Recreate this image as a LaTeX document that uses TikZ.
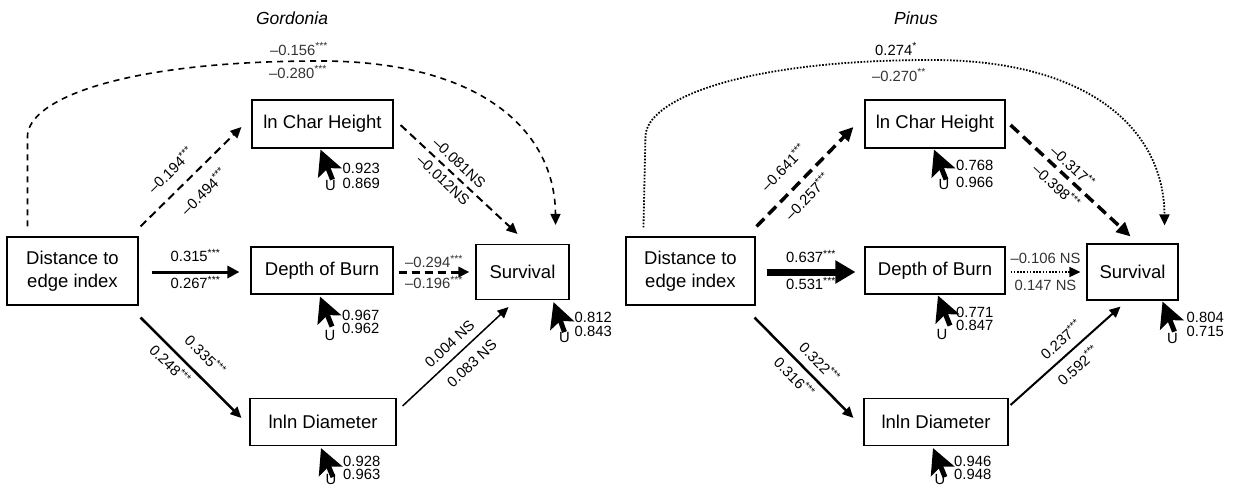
\documentclass[tikz,border=0pt]{standalone}
\usepackage{fontspec}
\setmainfont{Liberation Sans}
\usetikzlibrary{arrows.meta,calc}
\newcommand\sig[1]{\textsuperscript{#1}}
\begin{document}
\begin{tikzpicture}[x=1pt,y=-1pt,
  box/.style={draw,line width=1.1pt,inner sep=0pt,align=center,font=\fontsize{18.5}{22.5}\selectfont},
  lab/.style={font=\fontsize{14.8}{16}\selectfont,inner sep=0pt},
  ttl/.style={font=\fontsize{17.5}{20}\selectfont\itshape},
  errarr/.style={line width=5pt,-{Stealth[length=25pt,width=25pt,inset=5pt]}},
  enum/.style={lab,anchor=west},
  eu/.style={lab,anchor=center},
  gray/.style={text=black!80},
  tipA/.style={-{Triangle[length=11pt,width=10pt]}},
  tipB/.style={-{Triangle[length=14pt,width=13pt]}},
  tipC/.style={-{Triangle[length=20pt,width=22pt]}},
  dashA/.style={dash pattern=on 8pt off 5pt},
  dashB/.style={dash pattern=on 11pt off 6pt},
  dashC/.style={dash pattern=on 6pt off 5pt},
  dotA/.style={dash pattern=on 1.6pt off 1.6pt},
]
\useasboundingbox (0,0) rectangle (1237,485);

% ---------------- left panel: Gordonia ----------------
\node[ttl] (t1) at (292,18) {Gordonia};
\node[box,minimum width=131,minimum height=68] (dist) at (72.5,271) {Distance to\\edge index};
\node[box,minimum width=141,minimum height=48] (ch) at (322.5,124) {ln Char Height};
\node[box,minimum width=142,minimum height=47] (dob) at (322,270.5) {Depth of Burn};
\node[box,minimum width=93,minimum height=55] (surv) at (522.5,272) {Survival};
\node[box,minimum width=146,minimum height=47] (lnln) at (323,422) {lnln Diameter};

\draw[line width=1.6pt,dashC,tipA] ($(dist.north west)+(21,-10)$) -- ($(dist.north west)+(21,-100)$)
  .. controls (28,100) and (120,61) .. (320,61) .. controls (480,61) and (555,130) .. ($(surv.north east)+(-14,-19)$);
\node[lab,gray] (c1a) at (299,49) {–0.156\sig{***}};
\node[lab,gray] (c1b) at (298,72) {–0.280\sig{***}};

\draw[line width=2pt,dashA,tipA] ($(dist.north east)+(2,-10)$) --
  node[lab,pos=.43,sloped,above,outer sep=13pt] (l1a) {–0.194\sig{***}}
  node[lab,pos=.49,sloped,below,outer sep=13pt] (l1b) {–0.494\sig{***}} ($(ch.west)+(-10,3)$);
\draw[line width=2pt,dashA,tipA] ($(ch.east)+(7,1)$) --
  node[lab,pos=.43,sloped,above,outer sep=7pt] (l2a) {–0.081NS}
  node[lab,pos=.43,sloped,below,outer sep=6pt] (l2b) {–0.012NS} ($(surv.north)+(-5,-10)$);
\draw[line width=3pt,-{Triangle[length=12pt,width=12pt]}] ($(dist.east)+(13,1)$) --
  node[lab,above,outer sep=10pt] (l3a) {0.315\sig{***}}
  node[lab,below,outer sep=4pt] (l3b) {0.267\sig{***}} ($(dob.west)+(-11,1.5)$);
\draw[line width=3pt,dashA,tipA] ($(dob.east)+(5,1.5)$) --
  node[lab,gray,above,outer sep=4pt] (l4a) {–0.294\sig{***}}
  node[lab,gray,below,outer sep=4pt] (l4b) {–0.196\sig{***}} ($(surv.west)+(-6,0)$);
\draw[line width=2.5pt,tipA] ($(dist.south east)+(2,12)$) --
  node[lab,pos=.51,sloped,above,outer sep=13pt] (l5a) {0.335\sig{***}}
  node[lab,pos=.38,sloped,below,outer sep=6pt] (l5b) {0.248\sig{***}} ($(lnln.west)+(-8,-4)$);
\draw[line width=1.5pt,tipA] ($(lnln.east)+(6,-16)$) --
  node[lab,pos=.53,sloped,above,outer sep=8pt] (l6a) {0.004 NS}
  node[lab,pos=.55,sloped,below,outer sep=11pt] (l6b) {0.083 NS} ($(surv.south)+(-14,7)$);

% error terms left
\draw[errarr] ($(ch.south)+(10,31)$) -- ($(ch.south)+(-2,1)$);
\node[enum] (e1a) at ($(ch.south)+(20,20)$) {0.923};
\node[enum] (e1b) at ($(ch.south)+(20,35)$) {0.869};
\node[eu] (e1u) at ($(ch.south)+(8,37)$) {U};

\draw[errarr] ($(dob.south)+(10,32)$) -- ($(dob.south)+(-2,2)$);
\node[enum] (e2a) at ($(dob.south)+(20,21)$) {0.967};
\node[enum] (e2b) at ($(dob.south)+(20,34)$) {0.962};
\node[eu] (e2u) at ($(dob.south)+(8,41)$) {U};

\draw[errarr] ($(surv.south)+(42,32)$) -- ($(surv.south)+(31,2)$);
\node[enum] (e3a) at ($(surv.south)+(52,17)$) {0.812};
\node[enum] (e3b) at ($(surv.south)+(52,31)$) {0.843};
\node[eu] (e3u) at ($(surv.south)+(42,37)$) {U};

\draw[errarr] ($(lnln.south)+(10,31)$) -- ($(lnln.south)+(-2,2)$);
\node[enum] (e4a) at ($(lnln.south)+(20,15)$) {0.928};
\node[enum] (e4b) at ($(lnln.south)+(20,28)$) {0.963};
\node[eu] (e4u) at ($(lnln.south)+(8,33)$) {U};

% ---------------- right panel: Pinus ----------------
\node[ttl] (t2) at (916,18) {Pinus};
\node[box,minimum width=129,minimum height=68] (dist2) at (690.5,271) {Distance to\\edge index};
\node[box,minimum width=140,minimum height=48] (ch2) at (935,124) {ln Char Height};
\node[box,minimum width=140,minimum height=47] (dob2) at (935,270.5) {Depth of Burn};
\node[box,minimum width=91,minimum height=56] (surv2) at (1132.5,272) {Survival};
\node[box,minimum width=144,minimum height=47] (lnln2) at (936,422) {lnln Diameter};

\draw[line width=1.8pt,dotA,tipA] ($(dist2.north west)+(18,-9)$) -- ($(dist2.north west)+(20,-100)$)
  .. controls (646,100) and (740,60) .. (932,60) .. controls (1090,60) and (1164,130) .. ($(surv2.north east)+(-14,-18)$);
\node[lab] (c2a) at (896,49) {0.274\sig{*}};
\node[lab,gray] (c2b) at (899,75) {–0.270\sig{**}};

\draw[line width=3.5pt,dashB,tipB] ($(dist2.north east)+(1,-10)$) --
  node[lab,pos=.44,sloped,above,outer sep=16pt] (r1a) {–0.641\sig{***}}
  node[lab,pos=.41,sloped,below,outer sep=9pt] (r1b) {–0.257\sig{***}} ($(ch2.west)+(-11,3)$);
\draw[line width=3.5pt,dashB,tipB] ($(ch2.east)+(5,1)$) --
  node[lab,pos=.45,sloped,above,outer sep=6pt] (r2a) {–0.317\sig{**}}
  node[lab,pos=.46,sloped,below,outer sep=7pt] (r2b) {–0.398\sig{***}} ($(surv2.north)+(-2,-7)$);
\draw[line width=7pt,tipC] ($(dist2.east)+(11,1)$) --
  node[lab,above,outer sep=9pt] (r3a) {0.637\sig{***}}
  node[lab,below,outer sep=5pt] (r3b) {0.531\sig{***}} ($(dob2.west)+(-9,1.5)$);
\draw[line width=1.5pt,dotA,tipA] ($(dob2.east)+(5,1.5)$) --
  node[lab,gray,above,outer sep=8pt] (r4a) {–0.106 NS}
  node[lab,gray,below,outer sep=8pt] (r4b) {0.147 NS} ($(surv2.west)+(-6,0)$);
\draw[line width=2.5pt,tipA] ($(dist2.south east)+(-1,12)$) --
  node[lab,pos=.55,sloped,above,outer sep=9pt] (r5a) {0.322\sig{***}}
  node[lab,pos=.5,sloped,below,outer sep=7pt] (r5b) {0.316\sig{***}} ($(lnln2.west)+(-10,-4)$);
\draw[line width=2pt,tipA] ($(lnln2.east)+(2,-17)$) --
  node[lab,pos=.55,sloped,above,outer sep=9pt] (r6a) {0.237\sig{***}}
  node[lab,pos=.52,sloped,below,outer sep=9pt] (r6b) {0.592\sig{***}} ($(surv2.south)+(-12,6)$);

% error terms right
\draw[errarr] ($(ch2.south)+(11,31)$) -- ($(ch2.south)+(-1,1)$);
\node[enum] (f1a) at ($(ch2.south)+(21,17)$) {0.768};
\node[enum] (f1b) at ($(ch2.south)+(21,34)$) {0.966};
\node[eu] (f1u) at ($(ch2.south)+(9,36)$) {U};

\draw[errarr] ($(dob2.south)+(15,31)$) -- ($(dob2.south)+(3,1)$);
\node[enum] (f2a) at ($(dob2.south)+(21,18)$) {0.771};
\node[enum] (f2b) at ($(dob2.south)+(21,31)$) {0.847};
\node[eu] (f2u) at ($(dob2.south)+(7,40)$) {U};

\draw[errarr] ($(surv2.south)+(42,31)$) -- ($(surv2.south)+(30,1)$);
\node[enum] (f3a) at ($(surv2.south)+(54,17)$) {0.804};
\node[enum] (f3b) at ($(surv2.south)+(54,31)$) {0.715};
\node[eu] (f3u) at ($(surv2.south)+(40,38)$) {U};

\draw[errarr] ($(lnln2.south)+(9,31)$) -- ($(lnln2.south)+(-3,2)$);
\node[enum] (f4a) at ($(lnln2.south)+(18,15)$) {0.946};
\node[enum] (f4b) at ($(lnln2.south)+(18,28)$) {0.948};
\node[eu] (f4u) at ($(lnln2.south)+(4,33)$) {U};
\end{tikzpicture}
\end{document}
